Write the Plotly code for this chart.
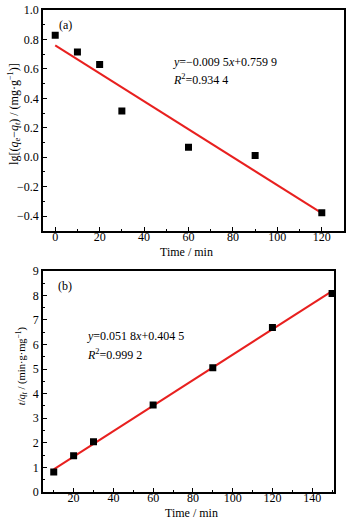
import plotly.graph_objects as go

# Panel (a) data
time_a = [0, 10, 20, 30, 60, 90, 120]
lg_a = [0.828, 0.714, 0.630, 0.313, 0.068, 0.012, -0.377]
slope_a, icpt_a = -0.0095, 0.7599
fit_x_a = [0, 120]

# Panel (b) data
time_b = [10, 20, 30, 60, 90, 120, 150]
tq_b = [0.81, 1.47, 2.04, 3.54, 5.05, 6.69, 8.08]
slope_b, icpt_b = 0.0518, 0.4045
fit_x_b = [10, 150]

FONT = "Liberation Serif"
fig = go.Figure()

fig.add_trace(go.Scatter(x=fit_x_a, y=[slope_a * v + icpt_a for v in fit_x_a], mode="lines",
                         line=dict(color="#e8201f", width=2), xaxis="x", yaxis="y", showlegend=False))
fig.add_trace(go.Scatter(x=time_a, y=lg_a, mode="markers",
                         marker=dict(symbol="square", size=7, color="black"),
                         xaxis="x", yaxis="y", showlegend=False))
fig.add_trace(go.Scatter(x=fit_x_b, y=[slope_b * v + icpt_b for v in fit_x_b], mode="lines",
                         line=dict(color="#e8201f", width=2), xaxis="x2", yaxis="y2", showlegend=False))
fig.add_trace(go.Scatter(x=time_b, y=tq_b, mode="markers",
                         marker=dict(symbol="square", size=7, color="black"),
                         xaxis="x2", yaxis="y2", showlegend=False))

axis_common = dict(showline=True, linecolor="black", linewidth=1.5, mirror=True,
                   ticks="inside", ticklen=4, tickwidth=1.2, tickcolor="black",
                   showgrid=False, zeroline=False, automargin=False,
                   tickfont=dict(family=FONT, size=12, color="black"))
minor_common = dict(ticks="inside", ticklen=2, tickwidth=1.2, tickcolor="black")

fig.update_layout(
    template="none",
    width=352, height=523,
    margin=dict(l=43, r=8, t=10, b=31),
    plot_bgcolor="white", paper_bgcolor="white",
    font=dict(family=FONT, size=12, color="black"),
    xaxis=dict(domain=[0, 1], anchor="y", range=[-5.5, 130], tickvals=[0, 20, 40, 60, 80, 100, 120],
               ticklabelstandoff=-6, minor=dict(dtick=10, **minor_common), **axis_common),
    yaxis=dict(domain=[0.542, 1], anchor="x", range=[-0.5, 1.0], dtick=0.2, tickformat=".1f",
               minor=dict(dtick=0.1, **minor_common), **axis_common),
    xaxis2=dict(domain=[0, 0.967], anchor="y2", range=[4.6, 151], tickvals=[20, 40, 60, 80, 100, 120, 140],
                ticklabelstandoff=-6, minor=dict(dtick=10, **minor_common), **axis_common),
    yaxis2=dict(domain=[0, 0.459], anchor="x2", range=[0, 9], dtick=1,
                minor=dict(dtick=0.5, **minor_common), **axis_common),
    annotations=[
        dict(text="Time / min", xref="paper", yref="paper", x=0.478, y=0.4975, yanchor="middle",
             showarrow=False, font=dict(family=FONT, size=12)),
        dict(text="Time / min", xref="paper", yref="paper", x=0.495, y=-0.044, yanchor="middle",
             showarrow=False, font=dict(family=FONT, size=12)),
        dict(text="lg[(<i>q</i><sub>e</sub>−<i>q</i><sub><i>t</i></sub>) / (mg·g<sup>−1</sup>)]",
             xref="paper", yref="paper", x=-0.097, y=0.784, xanchor="center", yanchor="middle",
             textangle=-90, showarrow=False, font=dict(family=FONT, size=12)),
        dict(text="<i>t</i>/<i>q</i><sub><i>t</i></sub> / (min·g·mg<sup>−1</sup>)",
             xref="paper", yref="paper", x=-0.0698, y=0.263, xanchor="center", yanchor="middle",
             textangle=-90, showarrow=False, font=dict(family=FONT, size=10.5)),
        dict(text="(a)", xref="x", yref="y", x=1, y=0.90, xanchor="left", showarrow=False,
             font=dict(family=FONT, size=12)),
        dict(text="<i>y</i>=−0.009 5<i>x</i>+0.759 9", xref="x", yref="y", x=52, y=0.645,
             xanchor="left", showarrow=False, font=dict(family=FONT, size=12)),
        dict(text="<i>R</i><sup>2</sup>=0.934 4", xref="x", yref="y", x=52, y=0.53,
             xanchor="left", showarrow=False, font=dict(family=FONT, size=12)),
        dict(text="(b)", xref="x2", yref="y2", x=11, y=8.4, xanchor="left", showarrow=False,
             font=dict(family=FONT, size=12)),
        dict(text="<i>y</i>=0.051 8<i>x</i>+0.404 5", xref="x2", yref="y2", x=25.5, y=6.35,
             xanchor="left", showarrow=False, font=dict(family=FONT, size=12)),
        dict(text="<i>R</i><sup>2</sup>=0.999 2", xref="x2", yref="y2", x=25.5, y=5.6,
             xanchor="left", showarrow=False, font=dict(family=FONT, size=12)),
    ],
)
fig.write_html("out.html", config={"displayModeBar": False},
               post_script="document.body.style.margin='0';")
